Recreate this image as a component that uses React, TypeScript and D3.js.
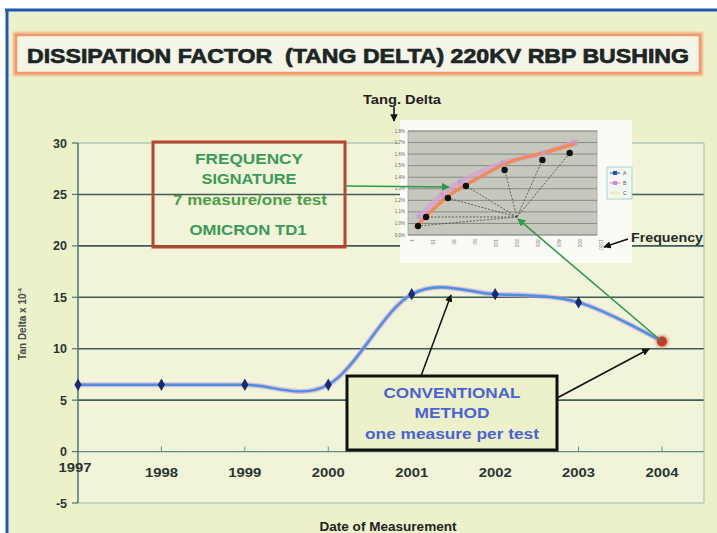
import React from "react";
import * as d3 from "d3";

// ---- main chart data ----
const years = [1997, 1998, 1999, 2000, 2001, 2002, 2003, 2004];
const tanDelta = [6.5, 6.5, 6.5, 6.5, 15.3, 15.3, 14.5, 10.7];
const yTicks = [-5, 0, 5, 10, 15, 20, 25, 30];
const gridValues = [0, 5, 10, 15, 20, 25];

// ---- inset (frequency signature) data ----
const insetFreqLabels = ["1", "15", "30", "50", "100", "200", "300", "400", "500", "1000"];
const insetYLabels = ["0.0%", "1.0%", "1.1%", "1.2%", "1.3%", "1.4%", "1.5%", "1.6%", "1.7%", "1.8%"];
const insetAx = [0.48, 0.86, 1.9, 2.76, 4.6, 6.4, 7.7];
const insetAy = [0.78, 1.56, 3.2, 4.24, 5.62, 6.49, 7.09];
const insetCurveX = [0.33, 1.86, 3.43, 4.71, 6.62, 8.05];
const insetCurveY = [0.6, 3.29, 5.02, 6.23, 7.18, 7.96];
const insetBx = [0.52, 1.62, 2.48, 4.52, 6.43, 7.95];
const insetBy = [1.56, 3.46, 4.58, 6.23, 7.09, 8.04];
const insetFocus = [5.19, 1.56];
const insetLegend = ["A", "B", "C"];

const FONT = "'Liberation Sans', Arial, Helvetica, sans-serif";

export default function App() {
  const x = d3.scaleLinear().domain([1997, 2004]).range([78, 662]);
  const y = d3.scaleLinear().domain([-5, 30]).range([503, 143]);
  const ix = d3.scaleLinear().domain([0, 9]).range([408, 597]);
  const iy = d3.scaleLinear().domain([0, 9]).range([235, 131]);

  const pts: [number, number][] = years.map((yr, i) => [x(yr), y(tanDelta[i])]);
  const line = d3.line().curve(d3.curveCardinal.tension(0))(pts) || "";

  const curvePts: [number, number][] = insetCurveX.map((v, i) => [ix(v), iy(insetCurveY[i])]);
  const insetCurve = d3.line().curve(d3.curveMonotoneX)(curvePts) || "";
  const bPts: [number, number][] = insetBx.map((v, i) => [ix(v), iy(insetBy[i])]);
  const bLine = d3.line().curve(d3.curveMonotoneX)(bPts) || "";
  const fx = ix(insetFocus[0]);
  const fy = iy(insetFocus[1]);

  const diamond = d3.symbol().type(d3.symbolDiamond).size(44)() || "";
  const lastIdx = years.length - 1;

  return (
    <svg width={717} height={533} style={{ position: "absolute", left: 0, top: 0 }} fontFamily={FONT}>
      <defs>
        <marker id="ab" viewBox="0 0 10 10" refX="9" refY="5" markerWidth="5" markerHeight="5" orient="auto-start-reverse">
          <path d="M0,0 L10,5 L0,10 z" fill="#111" />
        </marker>
        <marker id="ag" viewBox="0 0 10 10" refX="9" refY="5" markerWidth="5" markerHeight="5" orient="auto-start-reverse">
          <path d="M0,0 L10,5 L0,10 z" fill="#2f9a4a" />
        </marker>
        <filter id="blur1"><feGaussianBlur stdDeviation="1.2" /></filter>
      </defs>
      {/* page */}
      <rect x={0} y={0} width={717} height={533} fill="#ffffff" />
      <rect x={7} y={10} width={710} height={523} fill="#edf1ca" />
      <line x1={5} x2={717} y1={10} y2={10} stroke="#1f58b5" strokeWidth={3} />
      <line x1={7} x2={7} y1={9} y2={533} stroke="#1f58b5" strokeWidth={3} />

      {/* title */}
      <rect x={16} y={35} width={684} height={38} fill="none" stroke="#f4b08a" strokeWidth={6} filter="url(#blur1)" />
      <rect x={16} y={35} width={684} height={38} fill="#f4f5e6" stroke="#ee9a6a" strokeWidth={2.5} />
      <text x={358} y={63} textAnchor="middle" fontSize={21} fontWeight="bold" fill="#1c2626"
        stroke="#1c2626" strokeWidth={0.7} style={{ whiteSpace: "pre" }}
        textLength={662} lengthAdjust="spacingAndGlyphs">
        {"DISSIPATION FACTOR  (TANG DELTA) 220KV RBP BUSHING"}
      </text>

      {/* plot area */}
      <rect x={78} y={143} width={626} height={360} fill="#f1f4d9" />
      <line x1={78} x2={704} y1={y(30)} y2={y(30)} stroke="#8fb4b0" strokeWidth={1} />
      {gridValues.map((v) => (
        <line key={v} x1={78} x2={704} y1={y(v)} y2={y(v)} stroke={v === 0 ? "#5e8c8c" : "#3f5c5a"} strokeWidth={v === 0 ? 1.2 : 1.6} />
      ))}
      <line x1={78} x2={704} y1={y(-5)} y2={y(-5)} stroke="#8fc0c0" strokeWidth={1} />
      <line x1={704} x2={704} y1={y(30)} y2={y(-5)} stroke="#8fc0c0" strokeWidth={1} />
      <line x1={78} x2={78} y1={y(30)} y2={y(-5)} stroke="#4f7474" strokeWidth={1.5} />
      {yTicks.map((v) => (
        <g key={v}>
          <line x1={72} x2={78} y1={y(v)} y2={y(v)} stroke="#4f7474" strokeWidth={1.2} />
          <text x={67} y={y(v) + 4.5} textAnchor="end" fontSize={12.5} fontWeight="bold" fill="#2a3434">{v}</text>
        </g>
      ))}
      {years.map((yr, i) => (
        <g key={yr}>
          {i > 0 && <line x1={x(yr)} x2={x(yr)} y1={y(0) - 5} y2={y(0)} stroke="#5e8c8c" strokeWidth={1} />}
          <text x={i === 0 ? x(yr) - 3 : x(yr)} y={i === 0 ? 472 : 477} textAnchor="middle" fontSize={13} fontWeight="bold" fill="#2a3434"
            textLength={33} lengthAdjust="spacingAndGlyphs">{yr}</text>
        </g>
      ))}
      <text transform="translate(26,324) rotate(-90)" textAnchor="middle" fontSize={10} fontWeight="bold" fill="#4a4a4a">
        Tan Delta x 10<tspan dy={-4} fontSize={6}>-4</tspan>
      </text>
      <text x={388} y={531} textAnchor="middle" fontSize={12} fontWeight="bold" fill="#222"
        textLength={137} lengthAdjust="spacingAndGlyphs">Date of Measurement</text>

      {/* series */}
      <path d={line} fill="none" stroke="#c79ad8" strokeWidth={5} opacity={0.6} />
      <path d={line} fill="none" stroke="#4a8fe0" strokeWidth={2.4} />
      {pts.slice(0, lastIdx).map(([px, py], i) => (
        <path key={i} d={diamond} transform={`translate(${px},${py})`} fill="#1b2a6e" />
      ))}
      <circle cx={pts[lastIdx][0]} cy={pts[lastIdx][1]} r={7} fill="#e07050" opacity={0.5} filter="url(#blur1)" />
      <circle cx={pts[lastIdx][0]} cy={pts[lastIdx][1]} r={5} fill="#c83a28" />

      {/* inset chart */}
      <rect x={400} y={120} width={232} height={143} fill="#fbfbf6" />
      <rect x={408} y={131} width={189} height={104} fill="#c6c7bd" stroke="#9aa" strokeWidth={0.8} />
      {insetYLabels.map((lab, i) => (
        <g key={i}>
          <line x1={408} x2={597} y1={iy(i)} y2={iy(i)} stroke="#7d8480" strokeWidth={0.9} />
          <text x={405} y={iy(i) + 1.5} textAnchor="end" fontSize={4.5} fill="#666">{lab}</text>
        </g>
      ))}
      {insetFreqLabels.map((lab, i) => (
        <text key={i} transform={`translate(${ix(i) + 1.5},239) rotate(90)`} fontSize={5} fill="#777">{lab}</text>
      ))}
      {insetAx.map((v, i) => (
        <line key={i} x1={fx} y1={fy} x2={ix(v)} y2={iy(insetAy[i])} stroke="#444" strokeWidth={0.8} strokeDasharray="2,1.5" />
      ))}
      <path d={bLine} fill="none" stroke="#d9a0d8" strokeWidth={5} opacity={0.7} />
      <path d={insetCurve} fill="none" stroke="#f08a5a" strokeWidth={3.5} />
      {bPts.map(([px, py], i) => (
        <rect key={i} x={px - 2.5} y={py - 2.5} width={5} height={5} fill="#c89ad0" opacity={0.8} />
      ))}
      {insetAx.map((v, i) => (
        <circle key={i} cx={ix(v)} cy={iy(insetAy[i])} r={3.2} fill="#111" />
      ))}
      <rect x={607} y={167} width={25} height={32} fill="#f4f6f0" stroke="#9cc" strokeWidth={0.8} />
      {insetLegend.map((lab, i) => (
        <g key={lab}>
          <line x1={610} x2={620} y1={173 + i * 10} y2={173 + i * 10} stroke={["#3a6fd0", "#d090d0", "#e8e0a0"][i]} strokeWidth={1.2} />
          <rect x={613} y={171 + i * 10} width={4} height={4} fill={["#2850b0", "#d08ad0", "#f0f0c0"][i]} />
          <text x={623} y={175 + i * 10} fontSize={5} fill="#555">{lab}</text>
        </g>
      ))}
      <text x={402} y={104} textAnchor="middle" fontSize={12} fontWeight="bold" fill="#222"
        textLength={78} lengthAdjust="spacingAndGlyphs">Tang. Delta</text>
      <line x1={394} x2={394} y1={107} y2={121} stroke="#111" strokeWidth={1.5} markerEnd="url(#ab)" />
      <text x={631} y={242} fontSize={13} fontWeight="bold" fill="#1f2a2a"
        textLength={72} lengthAdjust="spacingAndGlyphs">Frequency</text>
      <line x1={628} y1={239} x2={604} y2={247} stroke="#111" strokeWidth={1.5} markerEnd="url(#ab)" />

      {/* frequency signature box */}
      <rect x={153} y={142} width={192} height={105} fill="none" stroke="#b8452c" strokeWidth={3} />
      <g fontWeight="bold" textAnchor="middle" fill="#3a9a58">
        <text x={249} y={164} fontSize={15} textLength={108} lengthAdjust="spacingAndGlyphs">FREQUENCY</text>
        <text x={249} y={184} fontSize={15} textLength={95} lengthAdjust="spacingAndGlyphs">SIGNATURE</text>
        <text x={250} y={205} fontSize={14} fill="#4a9e48" textLength={154} lengthAdjust="spacingAndGlyphs">7 measure/one test</text>
        <text x={248} y={235} fontSize={14} textLength={117} lengthAdjust="spacingAndGlyphs">OMICRON TD1</text>
      </g>
      <line x1={345} y1={186} x2={449} y2={187} stroke="#2f9a4a" strokeWidth={1.6} markerEnd="url(#ag)" />
      <line x1={pts[lastIdx][0]} y1={pts[lastIdx][1]} x2={fx + 1} y2={fy + 2} stroke="#2f9a4a" strokeWidth={1.6} markerEnd="url(#ag)" />

      {/* conventional method box */}
      <rect x={347} y={376} width={210} height={74} fill="#edf1ca" stroke="#111" strokeWidth={3} />
      <g fontWeight="bold" textAnchor="middle" fill="#4a62d6" fontSize={15}>
        <text x={452} y={398} textLength={137} lengthAdjust="spacingAndGlyphs">CONVENTIONAL</text>
        <text x={452} y={418} textLength={75} lengthAdjust="spacingAndGlyphs">METHOD</text>
        <text x={452} y={439} fontSize={14} textLength={174} lengthAdjust="spacingAndGlyphs">one measure per test</text>
      </g>
      <line x1={421} y1={376} x2={451} y2={295} stroke="#111" strokeWidth={1.5} markerEnd="url(#ab)" />
      <line x1={557} y1={398} x2={649} y2={349} stroke="#111" strokeWidth={1.5} markerEnd="url(#ab)" />
    </svg>
  );
}
